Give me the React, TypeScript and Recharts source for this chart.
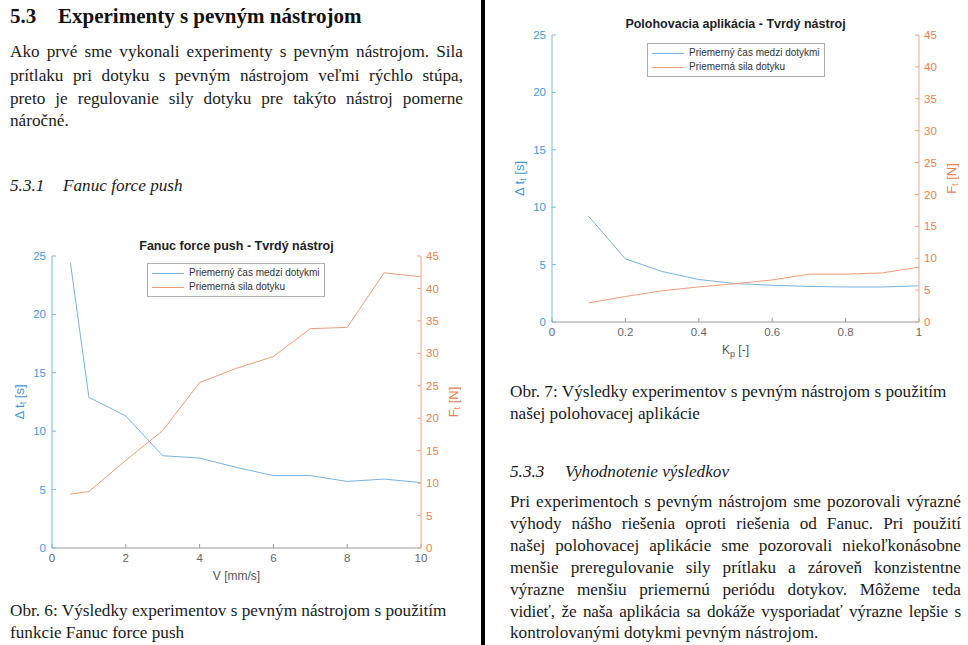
import React from 'react'
import { LineChart, Line, XAxis, YAxis, Legend } from 'recharts'

// Obr. 6 – Fanuc force push
const speed = [0.5, 1, 2, 3, 4, 5, 6, 7, 8, 9, 10]
const pushTime = [24.4, 12.9, 11.3, 7.9, 7.7, 6.9, 6.2, 6.2, 5.7, 5.9, 5.6]
const pushForce = [8.3, 8.7, 13.5, 18.1, 25.5, 27.7, 29.5, 33.8, 34.0, 42.4, 41.8]

// Obr. 7 – polohovacia aplikácia
const gain = [0.1, 0.2, 0.3, 0.4, 0.5, 0.6, 0.7, 0.8, 0.9, 1.0]
const appTime = [9.2, 5.5, 4.4, 3.7, 3.35, 3.2, 3.1, 3.05, 3.05, 3.15]
const appForce = [3.0, 4.0, 4.9, 5.5, 6.0, 6.6, 7.5, 7.5, 7.7, 8.6]

const speedTicks = [0, 2, 4, 6, 8, 10]
const gainTicks = [0, 0.2, 0.4, 0.6, 0.8, 1]
const timeTicks = [0, 5, 10, 15, 20, 25]
const forceTicks = [0, 5, 10, 15, 20, 25, 30, 35, 40, 45]

const seriesNames = ['Priemerný čas medzi dotykmi', 'Priemerná sila dotyku']

const BLUE_TXT = '#3f98da'
const BLUE_AX = '#7ab6e4'
const BLUE_LN = '#74b3e4'
const ORG_TXT = '#e9814f'
const ORG_AX = '#f2a583'
const ORG_LN = '#f29b78'
const GRAY = '#9a9a9a'

const SANS = '"Liberation Sans", Arial, Helvetica, sans-serif'
const SERIF = '"Liberation Serif", "Times New Roman", serif'
const BODY = 17.2

function zip(xs: number[], a: number[], b: number[]) {
    return xs.map((x, i) => ({ x, t: a[i], f: b[i] }))
}

function LegendBox() {
    return (
        <div
            style={{
                border: '1px solid #b0b0b0', background: '#fff',
                padding: '2px 4px 2px 4px', fontFamily: SANS, fontSize: 10, color: '#333', lineHeight: '14px',
            }}
        >
            {seriesNames.map((n, i) => (
                <div key={n} style={{ display: 'flex', alignItems: 'center', whiteSpace: 'nowrap' }}>
                    <span style={{ display: 'inline-block', width: 32, height: 1, background: i === 0 ? BLUE_LN : ORG_LN, marginRight: 5 }} />
                    {n}
                </div>
            ))}
        </div>
    )
}

function DualChart(props: {
    data: { x: number; t: number; f: number }[]
    xTicks: number[]
    width: number
    height: number
    margin: { top: number; right: number; bottom: number; left: number }
    xLabel: [string, string, string]
    legendPos: { left: number; top: number }
}) {
    const { data, xTicks, width, height, margin, xLabel, legendPos } = props
    const yLeft = (p: any) => {
        const vb = p.viewBox
        const cx = vb.x + 7
        const cy = vb.y + vb.height / 2
        return (
            <text x={cx} y={cy} transform={`rotate(-90, ${cx}, ${cy})`} textAnchor="middle" dominantBaseline="central"
                fill={BLUE_TXT} fontFamily={SANS} fontSize={13}>
                <tspan>Δ t</tspan><tspan dy={4} fontSize={9}>t</tspan><tspan dy={-4}> [s]</tspan>
            </text>
        )
    }
    const yRight = (p: any) => {
        const vb = p.viewBox
        const cx = vb.x + 32
        const cy = vb.y + vb.height / 2
        return (
            <text x={cx} y={cy} transform={`rotate(-90, ${cx}, ${cy})`} textAnchor="middle" dominantBaseline="central"
                fill={ORG_TXT} fontFamily={SANS} fontSize={13}>
                <tspan>F</tspan><tspan dy={4} fontSize={9}>t</tspan><tspan dy={-4}> [N]</tspan>
            </text>
        )
    }
    const xLab = (p: any) => {
        const vb = p.viewBox
        const cx = vb.x + vb.width / 2
        const cy = vb.y + 28
        return (
            <text x={cx} y={cy} textAnchor="middle" dominantBaseline="central" fill="#555" fontFamily={SANS} fontSize={12}>
                <tspan>{xLabel[0]}</tspan><tspan dy={4} fontSize={9}>{xLabel[1]}</tspan><tspan dy={-4}>{xLabel[2]}</tspan>
            </text>
        )
    }
    return (
        <LineChart width={width} height={height} data={data} margin={margin}>
            <XAxis dataKey="x" type="number" domain={[xTicks[0], xTicks[xTicks.length - 1]]} ticks={xTicks}
                tickSize={-4} tickMargin={10} height={30} interval={0}
                axisLine={{ stroke: GRAY }} tickLine={{ stroke: GRAY }}
                tick={{ fill: '#666', fontSize: 11.5, fontFamily: SANS }} label={xLab} />
            <YAxis yAxisId="l" domain={[0, 25]} ticks={timeTicks} width={40} tickSize={-4} tickMargin={10} interval={0}
                axisLine={{ stroke: BLUE_AX }} tickLine={{ stroke: BLUE_AX }}
                tick={{ fill: BLUE_TXT, fontSize: 11.5, fontFamily: SANS }} label={yLeft} />
            <YAxis yAxisId="r" orientation="right" domain={[0, 45]} ticks={forceTicks} width={40} tickSize={-4} tickMargin={9} interval={0}
                axisLine={{ stroke: ORG_AX }} tickLine={{ stroke: ORG_AX }}
                tick={{ fill: ORG_TXT, fontSize: 11.5, fontFamily: SANS }} label={yRight} />
            <Legend layout="vertical" align="center" verticalAlign="middle"
                wrapperStyle={{ left: legendPos.left, top: legendPos.top, width: 'auto' }}
                content={() => <LegendBox />} />
            <Line yAxisId="l" dataKey="t" name={seriesNames[0]} stroke={BLUE_LN} strokeWidth={1} dot={false} isAnimationActive={false} />
            <Line yAxisId="r" dataKey="f" name={seriesNames[1]} stroke={ORG_LN} strokeWidth={1} dot={false} isAnimationActive={false} />
        </LineChart>
    )
}

const intro = [
    'Ako prvé sme vykonali experimenty s pevným nástrojom. Sila',
    'prítlaku pri dotyku s pevným nástrojom veľmi rýchlo stúpa,',
    'preto je regulovanie sily dotyku pre takýto nástroj pomerne',
    'náročné.',
]
const introY = [52, 76, 99, 121]

const evalText = [
    'Pri experimentoch s pevným nástrojom sme pozorovali výrazné',
    'výhody nášho riešenia oproti riešenia od Fanuc. Pri použití',
    'našej polohovacej aplikácie sme pozorovali niekoľkonásobne',
    'menšie preregulovanie sily prítlaku a zároveň konzistentne',
    'výrazne menšiu priemernú periódu dotykov. Môžeme teda',
    'vidieť, že naša aplikácia sa dokáže vysporiadať výrazne lepšie s',
    'kontrolovanými dotykmi pevným nástrojom.',
]
const evalY = [502, 524, 546, 568, 590, 612, 633]

function TextLine({ x, y, w, text, justify, style }: any) {
    return (
        <div style={{
            position: 'absolute', left: x, top: y - 10, width: w, height: 20, lineHeight: '20px',
            fontFamily: SERIF, fontSize: BODY, color: '#1a1a1a', whiteSpace: 'nowrap',
            textAlign: justify ? 'justify' : 'left', textAlignLast: justify ? 'justify' : 'left', ...style,
        }}>{text}</div>
    )
}

export default function App() {
    return (
        <div style={{ position: 'absolute', left: 0, top: 0, width: 968, height: 645, background: '#fff', overflow: 'hidden' }}>
            <div style={{ position: 'absolute', left: 481, top: 0, width: 4, height: 645, background: '#000' }} />

            <div style={{ position: 'absolute', left: 10, top: 4, fontFamily: SERIF, fontWeight: 'bold', fontSize: 21, color: '#111', whiteSpace: 'nowrap' }}>
                <span style={{ display: 'inline-block', width: 48 }}>5.3</span>Experimenty s pevným nástrojom
            </div>
            {intro.map((t, i) => (
                <TextLine key={i} x={10} y={introY[i]} w={453} text={t} justify={i < intro.length - 1} />
            ))}
            <TextLine x={10} y={186} w={300} text={<><span style={{ display: 'inline-block', width: 53 }}>5.3.1</span>Fanuc force push</>} style={{ fontStyle: 'italic' }} />

            <div style={{ position: 'absolute', left: 0, top: 230 }}>
                <DualChart data={zip(speed, pushTime, pushForce)} xTicks={speedTicks} width={480} height={360}
                    margin={{ top: 26, right: 19, bottom: 12, left: 12 }} xLabel={['V [mm/s]', '', '']}
                    legendPos={{ left: 147, top: 33 }} />
                <div style={{ position: 'absolute', left: 42, width: 389, top: 9, textAlign: 'center', fontFamily: SANS, fontWeight: 'bold', fontSize: 12.5, color: '#222' }}>
                    Fanuc force push - Tvrdý nástroj
                </div>
            </div>

            <TextLine x={10} y={611} w={460} text="Obr. 6: Výsledky experimentov s pevným nástrojom s použitím" />
            <TextLine x={10} y={633} w={460} text="funkcie Fanuc force push" />

            <div style={{ position: 'absolute', left: 490, top: 0 }}>
                <DualChart data={zip(gain, appTime, appForce)} xTicks={gainTicks} width={478} height={380}
                    margin={{ top: 35, right: 9, bottom: 28, left: 22 }} xLabel={['K', 'p', ' [-]']}
                    legendPos={{ left: 157, top: 43 }} />
                <div style={{ position: 'absolute', left: 52, width: 387, top: 17, textAlign: 'center', fontFamily: SANS, fontWeight: 'bold', fontSize: 12.5, color: '#222' }}>
                    Polohovacia aplikácia - Tvrdý nástroj
                </div>
            </div>

            <TextLine x={510} y={392} w={455} text="Obr. 7: Výsledky experimentov s pevným nástrojom s použitím" />
            <TextLine x={510} y={414} w={455} text="našej polohovacej aplikácie" />
            <TextLine x={510} y={472} w={300} text={<><span style={{ display: 'inline-block', width: 55 }}>5.3.3</span>Vyhodnotenie výsledkov</>} style={{ fontStyle: 'italic' }} />
            {evalText.map((t, i) => (
                <TextLine key={i} x={510} y={evalY[i]} w={451} text={t} justify={i < evalText.length - 1}
                    style={i === 5 ? { letterSpacing: -0.15 } : undefined} />
            ))}
        </div>
    )
}
